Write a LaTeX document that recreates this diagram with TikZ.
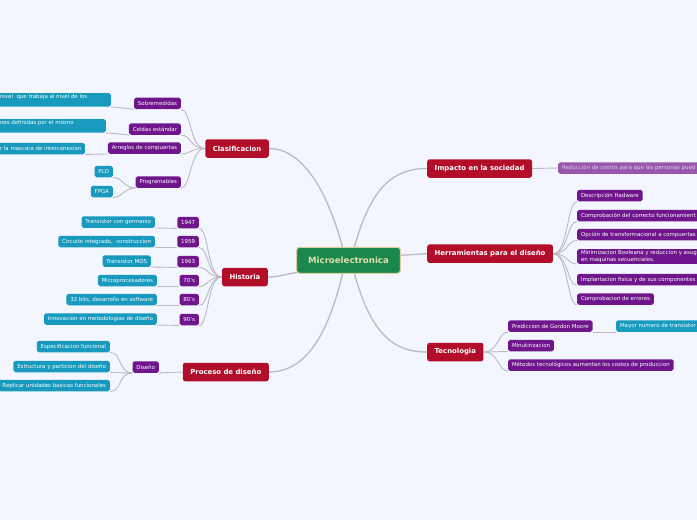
\documentclass[tikz,border=0pt]{standalone}
\usepackage{fontspec}
\setmainfont{DejaVu Sans}
\usetikzlibrary{positioning, calc, backgrounds}
\definecolor{cBack}{RGB}{243,246,254}
\definecolor{cRoot}{RGB}{26,136,74}
\definecolor{cRootEdge}{RGB}{214,207,160}
\definecolor{cRootText}{RGB}{228,221,178}
\definecolor{cRed}{RGB}{178,14,42}
\definecolor{cPurple}{RGB}{112,22,140}
\definecolor{cCyan}{RGB}{23,154,190}
\definecolor{cLine}{RGB}{186,186,192}
\tikzset{
    root/.style  ={rectangle, rounded corners=3pt, fill=cRoot, draw=cRootEdge, line width=1pt, text=cRootText, font=\fontsize{8.6}{10}\selectfont\bfseries, minimum height=26pt, inner xsep=11.5pt},
    topic/.style ={rectangle, rounded corners=2.5pt, fill=cRed, text=white, font=\fontsize{6.9}{8}\selectfont\bfseries, minimum height=18.5pt, inner xsep=7.5pt},
    sub/.style   ={rectangle, rounded corners=1.8pt, fill=cPurple, text=white, font=\fontsize{5.45}{6.4}\selectfont, minimum height=11.5pt, inner xsep=3.8pt, inner ysep=1.5pt, align=left},
    leaf/.style  ={sub, fill=cCyan},
    branch/.style={draw=cLine, line width=1.3pt},
    twig/.style  ={draw=cLine, line width=0.9pt},
}
\begin{document}
\begin{tikzpicture}[x=1pt, y=-1pt]
        \useasboundingbox (0,0) rectangle (697,520);
        % centre
        \node[root] (micro) at (348.5,260.3) {Microelectronica};
        % main topics
        \node[topic, anchor=east] (clas) at (269,148.5) {Clasificacion};
        \node[topic, anchor=east] (hist) at (268,277) {Historia};
        \node[topic, anchor=east] (proc) at (269,372) {Proceso de diseño};
        \node[topic, anchor=west] (imp) at (427,168.5) {Impacto en la sociedad};
        \node[topic, anchor=west] (herr) at (427,253.7) {Herramientas para el diseño};
        \node[topic, anchor=west] (tec) at (427,352) {Tecnologia};

        % Clasificacion
        \node[sub, anchor=east] (sobre) at (181,103.3) {Sobremedidas};
        \node[sub, anchor=east] (celdas) at (181,129) {Celdas estándar};
        \node[sub, anchor=east] (arreg) at (181,148) {Arreglos de compuertas};
        \node[sub, anchor=east] (prog) at (181,182) {Programables};
        \node[leaf, anchor=east] (sobreA) at (111,99.8) {\makebox[107pt][l]{nivel\ \ que trabaja al nivel de los}\\\mbox{}};
        \node[leaf, anchor=east] (celdasA) at (106,125.8) {\makebox[102pt][l]{nes definidas por el mismo}\\\mbox{}};
        \node[leaf, anchor=east] (arregA) at (85,148.5) {\makebox[81pt][l]{r la mascara de interconexion}};
        \node[leaf, anchor=east] (pld) at (113,171.5) {PLD};
        \node[leaf, anchor=east] (fpga) at (113,191.5) {FPGA};

        % Historia
        \node[sub, anchor=east] (y47) at (199,222.5) {1947};
        \node[sub, anchor=east] (y59) at (199,241.5) {1959};
        \node[sub, anchor=east] (y63) at (199,261.5) {1963};
        \node[sub, anchor=east] (y70) at (199,280.5) {70's};
        \node[sub, anchor=east] (y80) at (199,299.5) {80's};
        \node[sub, anchor=east] (y90) at (199,319.5) {90's};
        \node[leaf, anchor=east] (germ) at (155,222) {Transistor con germanio};
        \node[leaf, anchor=east] (circ) at (155,241.5) {Circuito integrado,\ \ construccion};
        \node[leaf, anchor=east] (mos) at (151,261) {Transistor MOS};
        \node[leaf, anchor=east] (micp) at (157,280.5) {Microprocesadores};
        \node[leaf, anchor=east] (bits) at (157,299.5) {32 bits, desarrollo en software};
        \node[leaf, anchor=east] (innov) at (157,319) {Innovacion en metodologias de diseño};

        % Proceso de diseño
        \node[sub, anchor=east] (dis) at (159,367) {Diseño};
        \node[leaf, anchor=east] (esp) at (110,346.5) {Especificacion funcional};
        \node[leaf, anchor=east] (estr) at (110,366.5) {Estructura y particion del diseño};
        \node[leaf, anchor=east] (repl) at (110,385.5) {Replicar unidades basicas funcionales};

        % Impacto
        \node[sub, anchor=west, fill=cPurple!72, text=white!80!cPurple] (red) at (558,168) {\makebox[150pt][l]{Reducción de costos para que las personas pued}};

        % Herramientas
        \node[sub, anchor=west] (desc) at (577,195.5) {Descripción Hadware};
        \node[sub, anchor=west] (compr) at (577,215.5) {\makebox[130pt][l]{Comprobación del correcto funcionamient}};
        \node[sub, anchor=west] (opc) at (577,234.5) {\makebox[130pt][l]{Opción de transformacional a compuertas}};
        \node[sub, anchor=west] (mini) at (577,256.5) {\makebox[130pt][l]{Minimizacion Booleana y reduccion y asug}\\en maquinas secuenciales.};
        \node[sub, anchor=west] (impl) at (577,279.5) {\makebox[130pt][l]{Implantacion fisica y de sus componentes}};
        \node[sub, anchor=west] (err) at (577,299) {Comprobacion de errores};

        % Tecnologia
        \node[sub, anchor=west] (pred) at (508,326) {Prediccion de Gordon Moore};
        \node[leaf, anchor=west] (mayor) at (616,326) {\makebox[100pt][l]{Mayor numero de transistor}};
        \node[sub, anchor=west] (minu) at (508,345.5) {Minutirizacion};
        \node[sub, anchor=west] (met) at (508,365) {Métodos tecnológicos aumentan los costos de produccion};

        \begin{scope}[on background layer]
            \fill[cBack] (0,0) rectangle (697,520);
            % from the centre
            \draw[branch] ($(micro.north)+(-6,0)$) .. controls +(-17,-62) and +(31,0) .. (clas.east);
            \draw[branch] ($(micro.north)+(6,0)$) .. controls +(17,-62) and +(-32,0) .. (imp.west);
            \draw[branch] ($(micro.south)+(-6,0)$) .. controls +(-17,72) and +(31,0) .. (proc.east);
            \draw[branch] ($(micro.south)+(6,0)$) .. controls +(17,62) and +(-32,0) .. (tec.west);
            \draw[branch] ($(micro.south west)+(3,-1.5)$) .. controls +(-12,1) and +(12,0) .. (hist.east);
            \draw[branch] ($(micro.east)+(0,-5)$) -- (herr.west);

            % left side
            \foreach \c/\g in {sobre/sobreA, celdas/celdasA, arreg/arregA} {
                \draw[twig] (clas.west) .. controls +(-15,0) and +(10,0) .. (\c.south east);
                \draw[twig] (\c.south west) -- (\g.south east);
            }
            \draw[twig] (clas.west) .. controls +(-15,0) and +(10,0) .. (prog.south east);
            \draw[twig] (prog.south west) .. controls +(-12,0) and +(10,0) .. (pld.south east);
            \draw[twig] (prog.south west) .. controls +(-12,0) and +(10,0) .. (fpga.south east);
            \foreach \c/\g in {y47/germ, y59/circ, y63/mos, y70/micp, y80/bits, y90/innov} {
                \draw[twig] (hist.west) .. controls +(-15,0) and +(10,0) .. (\c.south east);
                \draw[twig] (\c.south west) -- (\g.south east);
            }
            \draw[twig] (proc.west) -- (dis.south east);
            \foreach \g in {esp, estr, repl}
                \draw[twig] (dis.south west) .. controls +(-14,0) and +(12,0) .. (\g.south east);

            % right side
            \draw[twig] (imp.east) -- (red.west);
            \foreach \c in {desc, compr, opc, mini, impl, err}
                \draw[twig] (herr.east) .. controls +(15,0) and +(-10,0) .. (\c.south west);
            \foreach \c in {pred, minu, met}
                \draw[twig] (tec.east) .. controls +(15,0) and +(-10,0) .. (\c.south west);
            \draw[twig] (pred.south east) -- (mayor.south west);
        \end{scope}
    \end{tikzpicture}
\end{document}
